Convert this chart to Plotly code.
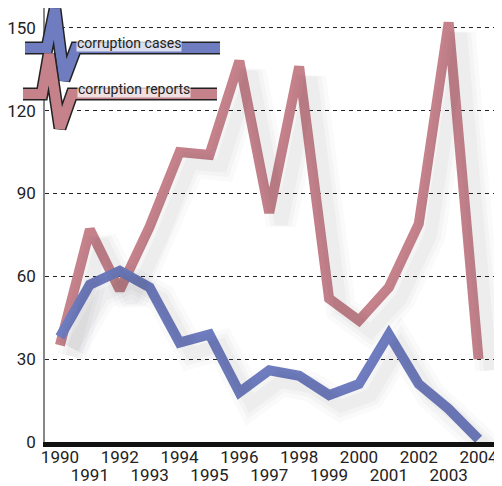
import plotly.graph_objects as go

years = list(range(1990, 2005))
cases = [38, 57, 62, 56, 36, 39, 18, 26, 24, 17, 21, 39, 21, 12, 1]
reports = [35, 77, 55, 78, 105, 104, 138, 83, 136, 52, 44, 56, 79, 152, 30]

even_years = [y for y in years if y % 2 == 0]
odd_years = [y for y in years if y % 2 == 1]
y_ticks = [0, 30, 60, 90, 120, 150]

BLUE = "#6f7cbf"
RED = "#c5828b"
FONT = "Roboto, Liberation Sans Narrow, Arial Narrow, sans-serif"

# the page body has an 8px margin, so the figure is drawn 8px in
OFF = 8
W, H = 502 - OFF, 486 - OFF
# plot area in figure pixels
L, R, T, B = 45 - OFF, 495 - OFF, 0, 442 - OFF


def px(x, y):
    # reference-page pixel -> paper coordinates
    return (x - OFF - L) / (R - L), (B - (y - OFF)) / (B - T)


def path(points):
    pts = [px(x, y) for x, y in points]
    return "M " + " L ".join(f"{a:.4f},{b:.4f}" for a, b in pts)


fig = go.Figure()

# soft drop shadows
for vals in (reports, cases):
    for w, a in ((30, 0.022), (21, 0.03), (13, 0.035)):
        fig.add_trace(go.Scatter(
            x=[y + 0.4 for y in years], y=[v - 4 for v in vals],
            mode="lines", line=dict(color=f"rgba(60,60,70,{a})", width=w),
            hoverinfo="skip", showlegend=False, xaxis="x2",
        ))

fig.add_trace(go.Scatter(x=years, y=reports, mode="lines",
                         line=dict(color=RED, width=10), name="corruption reports",
                         showlegend=False))
fig.add_trace(go.Scatter(x=years, y=cases, mode="lines",
                         line=dict(color=BLUE, width=10), name="corruption cases",
                         showlegend=False))

# decorative legend (zig-zag bands)
legend = [
    (BLUE, [(25, 48), (47, 48), (55, 9), (64, 80), (76, 48), (220, 48)], "corruption cases", 129, 43),
    (RED, [(23, 94), (42, 94), (49, 54), (60, 128), (72, 94), (217, 94)], "corruption reports", 134, 89),
]
shapes = []
for color, pts, _, _, _ in legend:
    shapes.append(dict(type="path", xref="paper", yref="paper", path=path(pts),
                       line=dict(color="#222", width=13)))
    shapes.append(dict(type="path", xref="paper", yref="paper", path=path(pts),
                       line=dict(color=color, width=10)))
annotations = []
for _, _, text, tx, ty in legend:
    ax, ay = px(tx, ty)
    annotations.append(dict(x=ax, y=ay, xref="paper", yref="paper", text=text,
                            xanchor="center", yanchor="middle",
                            showarrow=False, font=dict(family=FONT, size=14, color="#222"),
                            bgcolor="rgba(255,255,255,0.75)", borderpad=0))

fig.update_layout(
    width=W, height=H,
    margin=dict(l=L, r=W - R, t=T, b=H - B, autoexpand=False),
    paper_bgcolor="white", plot_bgcolor="white",
    showlegend=False,
    shapes=shapes, annotations=annotations,
    xaxis=dict(range=[1989.5, 2004.55], tickvals=even_years,
               ticktext=[str(y) for y in even_years],
               showgrid=False, zeroline=False, ticks="", ticklen=0,
               showline=True, linecolor="#111", linewidth=5,
               automargin=False, ticklabeloverflow="allow", ticklabelstandoff=-4,
               tickfont=dict(family=FONT, size=17, color="#222")),
    xaxis2=dict(matches="x", overlaying="x", side="bottom", tickvals=odd_years,
                ticktext=[str(y) for y in odd_years], showgrid=False,
                zeroline=False, ticks="", ticklen=0, showline=False,
                automargin=False, ticklabeloverflow="allow", ticklabelstandoff=21,
                tickfont=dict(family=FONT, size=17, color="#222")),
    yaxis=dict(range=[0, 157.2], tickvals=y_ticks, showgrid=True,
               gridcolor="#222", griddash="4px,4px", gridwidth=1.3,
               zeroline=False, showline=True, linecolor="#888", linewidth=1.5,
               ticks="", ticklen=0, ticklabelstandoff=4, automargin=False,
               tickfont=dict(family=FONT, size=17, color="#222")),
)

fig.write_html("out.html")
